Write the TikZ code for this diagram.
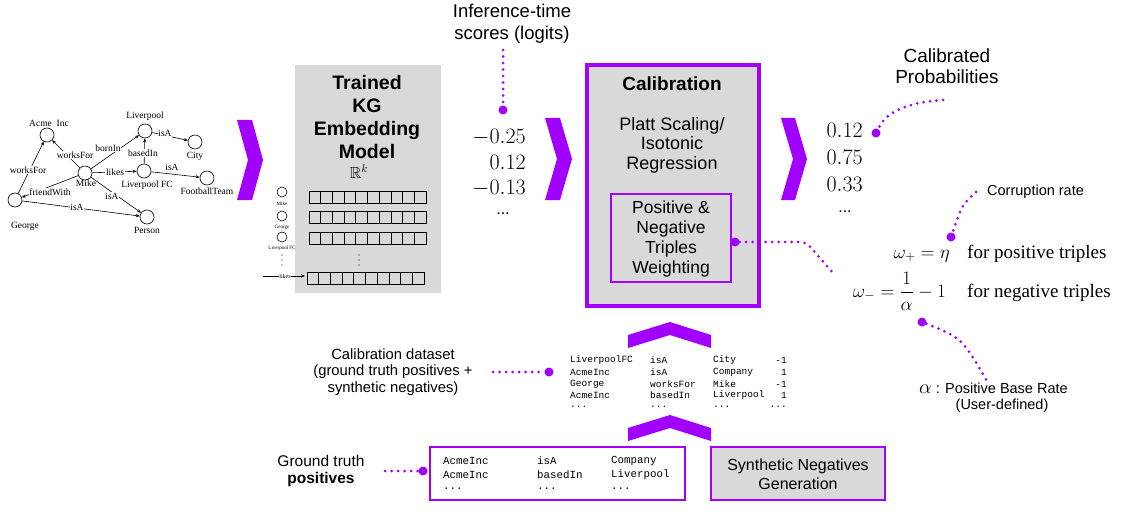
\documentclass[tikz,border=0pt]{standalone}
\usepackage{fix-cm}
\usepackage{amsmath,amssymb}
\usepackage{fontspec}
\setmainfont{Liberation Sans}
\newfontfamily\tms{Liberation Serif}
\newfontfamily\crr{Liberation Mono}
\usetikzlibrary{arrows.meta}
\definecolor{acc}{RGB}{161,0,255}
\definecolor{gbox}{RGB}{217,217,217}
\newcommand{\tdots}{...}
\tikzset{
  gnode/.style={circle,draw,line width=0.6pt,minimum size=14pt,inner sep=0pt},
  gname/.style={font=\tms\fontsize{9.5}{10}\selectfont,inner sep=0pt},
  glab/.style={font=\tms\fontsize{9.5}{10}\selectfont,fill=white,inner sep=0.6pt},
  gedge/.style={-{Stealth[length=4pt,width=3.2pt]},line width=0.6pt},
  tiny/.style={font=\tms\fontsize{5}{5}\selectfont,inner sep=0pt},
  smallc/.style={circle,draw,line width=0.6pt,minimum size=10pt,inner sep=0pt},
  cell/.style={draw,line width=0.7pt},
  vdot/.style={circle,fill=black,minimum size=1.3pt,inner sep=0pt},
  dotl/.style={draw=acc,line width=3pt,line cap=round,dash pattern=on 0pt off 6.5pt},
  bigdot/.style={circle,fill=acc,minimum size=9pt,inner sep=0pt},
  sans/.style={inner sep=0pt,align=center},
  numr/.style={anchor=east,inner sep=0pt,font=\fontsize{22}{24}\selectfont},
  mono/.style={anchor=west,inner sep=0pt,font=\crr\fontsize{9.5}{10}\selectfont},
  monob/.style={anchor=west,inner sep=0pt,font=\crr\fontsize{10.8}{11}\selectfont},
}
\begin{document}
\begin{tikzpicture}[x=1pt,y=-1pt]
\useasboundingbox (0,0) rectangle (1133,516);

% ---------------- knowledge graph ----------------
\node[gnode] (acme) at (47,135) {};
\node[gnode] (liv) at (145,131) {};
\node[gnode] (city) at (195,142) {};
\node[gnode] (mike) at (85,173) {};
\node[gnode] (lfc) at (144,171) {};
\node[gnode] (ft) at (207,178) {};
\node[gnode] (george) at (15,200) {};
\node[gnode] (person) at (147,217) {};

\draw[gedge] (mike) -- (acme);
\draw[gedge] (mike) -- (liv);
\draw[gedge] (liv) -- (city);
\draw[gedge] (lfc) -- (liv);
\draw[gedge] (mike) -- (lfc);
\draw[gedge] (lfc) -- (ft);
\draw[gedge] (mike) -- (person);
\draw[gedge] (mike) -- (george);
\draw[gedge] (george) -- (acme);
\draw[gedge] (george) -- (person);

\node[gname] (nacme) at (49,123) {Acme\ \ Inc};
\node[gname] (nliv) at (145,116) {Liverpool};
\node[gname] (ncity) at (195,156) {City};
\node[gname] (nmike) at (86,183) {Mike};
\node[gname] (nlfc) at (147,185) {Liverpool FC};
\node[gname] (nft) at (207,191) {FootballTeam};
\node[gname] (ngeorge) at (25,226) {George};
\node[gname] (nperson) at (147,230) {Person};

\node[glab] (e1) at (75,155) {worksFor};
\node[glab] (e2) at (108,148) {bornIn};
\node[glab] (e3) at (165,133) {isA};
\node[glab] (e4) at (143,153) {basedIn};
\node[glab] (e5) at (115,172) {likes};
\node[glab] (e6) at (172,167) {isA};
\node[glab] (e7) at (112,196) {isA};
\node[glab] (e8) at (50,192) {friendWith};
\node[glab] (e9) at (28,170) {worksFor};
\node[glab] (e10) at (77,207) {isA};

% ---------------- chevrons ----------------
\fill[acc] (237,120) -- (252,120) -- (263,160) -- (252,200) -- (237,200) -- (248,160) -- cycle;
\fill[acc] (545,118) -- (560,118) -- (572,159) -- (560,200) -- (545,200) -- (557,159) -- cycle;
\fill[acc] (781,118) -- (795,118) -- (807,159) -- (795,200) -- (781,200) -- (793,159) -- cycle;
\fill[acc] (628,348) -- (628,335) -- (670,322) -- (711,335) -- (711,348) -- (670,335) -- cycle;
\fill[acc] (628,441) -- (628,428) -- (670,415) -- (711,428) -- (711,441) -- (670,428) -- cycle;

% ---------------- embedding model ----------------
\fill[gbox] (295,65) rectangle (441,293);
\node[sans,font=\bfseries\fontsize{19.5}{23}\selectfont] (emb) at (367,117)
  {Trained\\KG\\Embedding\\Model};
\node[inner sep=0pt,font=\fontsize{16}{16}\selectfont] (rk) at (359,172) {$\mathbb{R}^k$};
\foreach \yy/\xx in {191/309,211/309,232/309,272/307}{
  \foreach \i in {0,...,9}{\draw[cell] (\xx+\i*11.7,\yy) rectangle ++(11.7,12);}}
\foreach \yy in {255,260,265}{
  \node[vdot] at (359,\yy) {};
  \node[vdot] at (282,\yy) {};}
\node[smallc] (sm1) at (282,192) {};
\node[tiny] (sl1) at (282,204) {Mike};
\node[smallc] (sm2) at (282,216) {};
\node[tiny] (sl2) at (282,227) {George};
\node[smallc] (sm3) at (282,237) {};
\node[tiny] (sl3) at (282,248) {Liverpool FC};
\coordinate (lk1) at (263,276);
\coordinate (lk2) at (305,276);
\draw[gedge] (lk1) -- (lk2);
\node[tiny,fill=white,inner sep=0.5pt,font=\tms\fontsize{6}{6}\selectfont] (lkl) at (285,276) {likes};

% ---------------- scores ----------------
\node[sans,font=\fontsize{18.5}{22}\selectfont] (inf) at (512,24) {Inference-time\\scores (logits)};
\node[bigdot] (dInf) at (503,110) {};
\coordinate (cInf) at (503,50);
\draw[dotl] (cInf) -- (dInf);
\node[numr] (s1) at (526,137) {$-0.25$};
\node[numr] (s2) at (526,162) {$0.12$};
\node[numr] (s3) at (526,188) {$-0.13$};
\node[inner sep=0pt,font=\fontsize{16}{16}\selectfont] (s4) at (503,214) {\tdots};

% ---------------- calibration ----------------
\draw[acc,line width=4pt,fill=gbox] (587,65) rectangle (759,306);
\node[sans,font=\bfseries\fontsize{19}{22}\selectfont] (calt) at (672,84) {Calibration};
\node[sans,font=\fontsize{18}{19.5}\selectfont] (platt) at (672,145) {Platt Scaling/\\Isotonic\\Regression};
\draw[acc,line width=2pt] (611,194) rectangle (731,282);
\node[sans,font=\fontsize{17.5}{20}\selectfont] (pnw) at (671,239) {Positive \&\\Negative\\Triples\\Weighting};
\node[bigdot] (dW) at (735,242) {};
\coordinate (cW1) at (806,242);
\coordinate (cW2) at (833,273);
\draw[dotl,rounded corners=6pt] (dW) -- (cW1) -- (cW2);

% ---------------- calibrated probabilities ----------------
\node[sans,font=\fontsize{19}{21}\selectfont] (cp) at (947,66) {Calibrated\\Probabilities};
\node[bigdot] (dCal) at (876,133) {};
\coordinate (cCal) at (943,100);
\draw[dotl] (cCal) .. controls (900,103) and (885,115) .. (dCal);
\node[numr] (p1) at (863,130) {$0.12$};
\node[numr] (p2) at (863,157) {$0.75$};
\node[numr] (p3) at (863,184) {$0.33$};
\node[inner sep=0pt,font=\fontsize{16}{16}\selectfont] (p4) at (845,212) {\tdots};

% ---------------- weights ----------------
\node[anchor=west,inner sep=0pt,font=\fontsize{14.5}{15}\selectfont] (corr) at (987,192) {Corruption rate};
\node[bigdot] (dCor) at (951,237) {};
\coordinate (cCor) at (976,192);
\draw[dotl] (cCor) .. controls (962,205) .. (dCor);
\node[anchor=base east,inner sep=0pt,font=\fontsize{19}{21}\selectfont] (wp) at (950,258) {$\omega_+ = \eta$};
\node[anchor=base east,inner sep=0pt,font=\fontsize{19}{21}\selectfont] (wm) at (946,297) {$\omega_- = \dfrac{1}{\alpha} - 1$};
\node[anchor=base west,inner sep=0pt,font=\tms\fontsize{19}{21}\selectfont] (fp) at (967,258) {for positive triples};
\node[anchor=base west,inner sep=0pt,font=\tms\fontsize{19}{21}\selectfont] (fn) at (967,297) {for negative triples};
\node[bigdot] (dAl) at (922,322) {};
\coordinate (cAl) at (987,381);
\draw[dotl] (dAl) .. controls (962,338) .. (cAl);
\node[anchor=base west,inner sep=0pt,font=\fontsize{14.5}{15}\selectfont] (al) at (919,393)
  {{\fontsize{20}{20}\selectfont$\alpha$} : Positive Base Rate};
\node[inner sep=0pt,font=\fontsize{14.5}{15}\selectfont] (ud) at (1002,406) {(User-defined)};

% ---------------- calibration dataset ----------------
\node[sans,font=\fontsize{14.8}{16.5}\selectfont] (cd) at (393,372) {Calibration dataset\\(ground truth positives +\\synthetic negatives)};
\node[bigdot] (dCD) at (549,372) {};
\coordinate (cCD) at (493,372);
\draw[dotl] (cCD) -- (dCD);
\foreach \r/\yy/\a/\b/\c/\d in {1/360/LiverpoolFC/isA/City/-1, 2/372/AcmeInc/isA/Company/1, 3/384/George/worksFor/Mike/-1, 4/395/AcmeInc/basedIn/Liverpool/1, 5/407/\tdots/\tdots/\tdots/\tdots}{
  \node[mono] (cda\r) at (570,\yy) {\a};
  \node[mono] (cdb\r) at (650,\yy) {\b};
  \node[mono] (cdc\r) at (713,\yy) {\c};
  \node[mono,anchor=east] (cdd\r) at (787,\yy) {\d};
}

% ---------------- ground truth ----------------
\node[sans,font=\fontsize{15.5}{17}\selectfont] (gt) at (321,471) {Ground truth\\\textbf{positives}};
\node[bigdot] (dGT) at (423,471) {};
\coordinate (cGT) at (385,471);
\draw[dotl] (cGT) -- (dGT);
\draw[acc,line width=2.5pt] (430,447) rectangle (685,500);
\foreach \r/\yy/\a/\b/\c in {1/461/AcmeInc/isA/Company, 2/475/AcmeInc/basedIn/Liverpool, 3/489/\tdots/\tdots/\tdots}{
  \node[monob] (gta\r) at (443,\yy) {\a};
  \node[monob] (gtb\r) at (537,\yy) {\b};
  \node[monob] (gtc\r) at (611,\yy) {\c};
}
\draw[acc,line width=2.5pt,fill=gbox] (711,447) rectangle (885,500);
\node[sans,font=\fontsize{16}{19}\selectfont] (syn) at (798,474) {Synthetic Negatives\\Generation};
\end{tikzpicture}
\end{document}
